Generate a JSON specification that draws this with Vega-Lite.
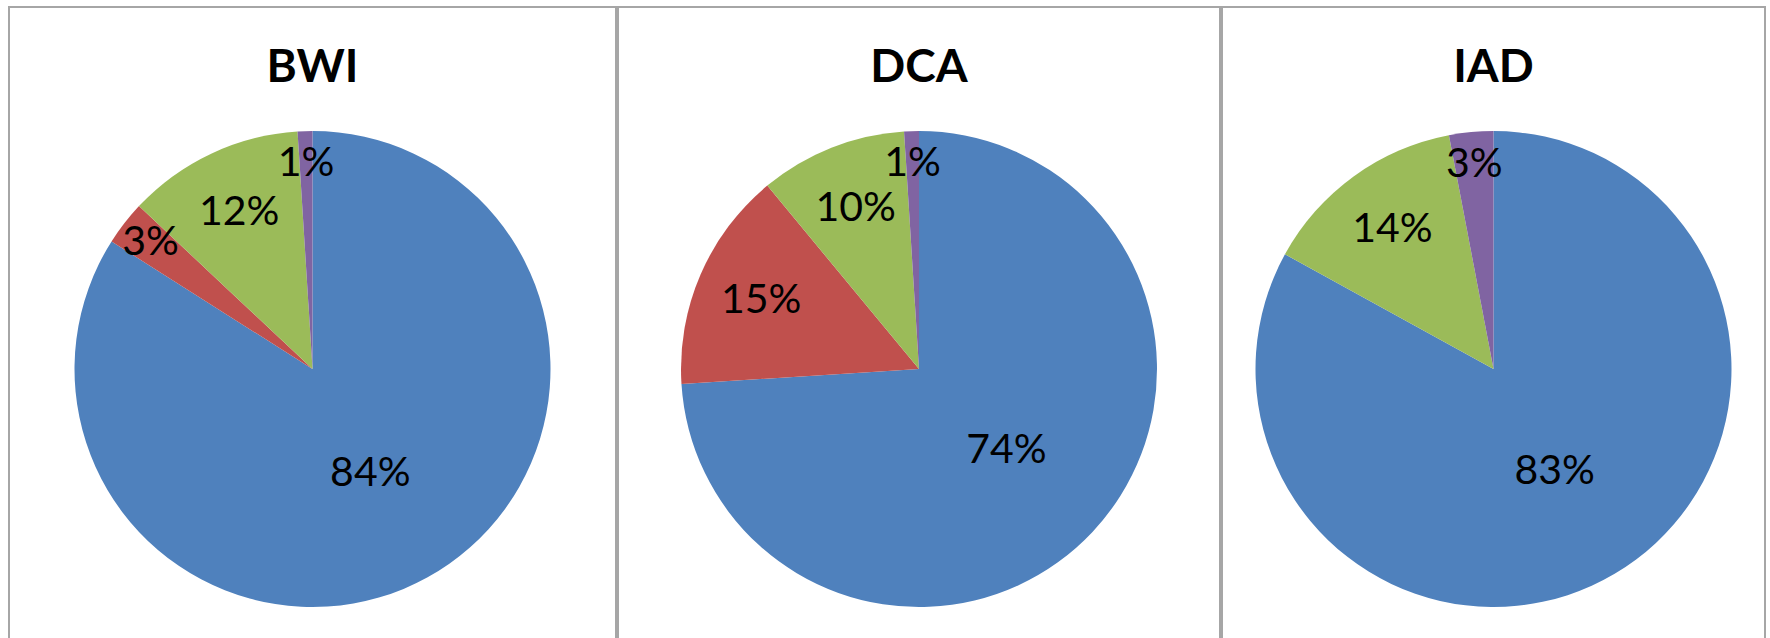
{
  "$schema": "https://vega.github.io/schema/vega-lite/v6.json",
  "padding": {"left": 8, "top": 6, "right": 0, "bottom": 0},
  "background": "white",
  "config": {
    "view": {"stroke": "#a6a6a6", "strokeWidth": 2},
    "style": {"view": {"stroke": "#a6a6a6", "strokeWidth": 2}},
    "concat": {"spacing": 0},
    "title": {"font": "Lato", "fontSize": 46, "fontWeight": "bold", "color": "black", "anchor": "middle", "offset": -85, "baseline": "alphabetic"}
  },
  "data": {
    "values": [
      {"airport": "BWI", "category": "Series 1", "order": 1, "share": 0.84},
      {"airport": "BWI", "category": "Series 2", "order": 2, "share": 0.03},
      {"airport": "BWI", "category": "Series 3", "order": 3, "share": 0.12},
      {"airport": "BWI", "category": "Series 4", "order": 4, "share": 0.01},
      {"airport": "DCA", "category": "Series 1", "order": 1, "share": 0.74},
      {"airport": "DCA", "category": "Series 2", "order": 2, "share": 0.15},
      {"airport": "DCA", "category": "Series 3", "order": 3, "share": 0.10},
      {"airport": "DCA", "category": "Series 4", "order": 4, "share": 0.01},
      {"airport": "IAD", "category": "Series 1", "order": 1, "share": 0.83},
      {"airport": "IAD", "category": "Series 3", "order": 3, "share": 0.14},
      {"airport": "IAD", "category": "Series 4", "order": 4, "share": 0.03}
    ]
  },
  "hconcat": [
    {
      "width": 607, "height": 724,
      "title": {"text": "BWI"},
      "transform": [{"filter": "datum.airport === 'BWI'"}],
      "encoding": {
        "theta": {"field": "share", "type": "quantitative", "stack": true},
        "order": {"field": "order", "type": "quantitative"}
      },
      "layer": [
        {
          "mark": {"type": "arc", "outerRadius": 238},
          "encoding": {
            "color": {"field": "category", "type": "nominal", "legend": null,
              "scale": {"domain": ["Series 1", "Series 2", "Series 3", "Series 4"], "range": ["#4F81BD", "#C0504D", "#9BBB59", "#8064A2"]}}
          }
        },
        {
          "mark": {"type": "text", "radius": 120, "font": "Lato", "fontSize": 41, "color": "black"},
          "encoding": {"text": {"condition": {"test": "datum.share > 0.5", "field": "share", "type": "quantitative", "format": ".0%"}, "value": ""}}
        },
        {
          "mark": {"type": "text", "radius": 172, "font": "Lato", "fontSize": 41, "color": "black"},
          "encoding": {"text": {"condition": {"test": "datum.share <= 0.5 && datum.share > 0.05", "field": "share", "type": "quantitative", "format": ".0%"}, "value": ""}}
        },
        {
          "mark": {"type": "text", "radius": 205, "font": "Lato", "fontSize": 41, "color": "black"},
          "encoding": {"text": {"condition": {"test": "datum.share <= 0.05", "field": "share", "type": "quantitative", "format": ".0%"}, "value": ""}}
        }
      ]
    },
    {
      "width": 602, "height": 724,
      "title": {"text": "DCA"},
      "transform": [{"filter": "datum.airport === 'DCA'"}],
      "encoding": {
        "theta": {"field": "share", "type": "quantitative", "stack": true},
        "order": {"field": "order", "type": "quantitative"}
      },
      "layer": [
        {
          "mark": {"type": "arc", "outerRadius": 238},
          "encoding": {
            "color": {"field": "category", "type": "nominal", "legend": null,
              "scale": {"domain": ["Series 1", "Series 2", "Series 3", "Series 4"], "range": ["#4F81BD", "#C0504D", "#9BBB59", "#8064A2"]}}
          }
        },
        {
          "mark": {"type": "text", "radius": 120, "font": "Lato", "fontSize": 41, "color": "black"},
          "encoding": {"text": {"condition": {"test": "datum.share > 0.5", "field": "share", "type": "quantitative", "format": ".0%"}, "value": ""}}
        },
        {
          "mark": {"type": "text", "radius": 172, "font": "Lato", "fontSize": 41, "color": "black"},
          "encoding": {"text": {"condition": {"test": "datum.share <= 0.5 && datum.share > 0.05", "field": "share", "type": "quantitative", "format": ".0%"}, "value": ""}}
        },
        {
          "mark": {"type": "text", "radius": 205, "font": "Lato", "fontSize": 41, "color": "black"},
          "encoding": {"text": {"condition": {"test": "datum.share <= 0.05", "field": "share", "type": "quantitative", "format": ".0%"}, "value": ""}}
        }
      ]
    },
    {
      "width": 543, "height": 724,
      "title": {"text": "IAD"},
      "transform": [{"filter": "datum.airport === 'IAD'"}],
      "encoding": {
        "theta": {"field": "share", "type": "quantitative", "stack": true},
        "order": {"field": "order", "type": "quantitative"}
      },
      "layer": [
        {
          "mark": {"type": "arc", "outerRadius": 238},
          "encoding": {
            "color": {"field": "category", "type": "nominal", "legend": null,
              "scale": {"domain": ["Series 1", "Series 2", "Series 3", "Series 4"], "range": ["#4F81BD", "#C0504D", "#9BBB59", "#8064A2"]}}
          }
        },
        {
          "mark": {"type": "text", "radius": 120, "font": "Lato", "fontSize": 41, "color": "black"},
          "encoding": {"text": {"condition": {"test": "datum.share > 0.5", "field": "share", "type": "quantitative", "format": ".0%"}, "value": ""}}
        },
        {
          "mark": {"type": "text", "radius": 172, "font": "Lato", "fontSize": 41, "color": "black"},
          "encoding": {"text": {"condition": {"test": "datum.share <= 0.5 && datum.share > 0.05", "field": "share", "type": "quantitative", "format": ".0%"}, "value": ""}}
        },
        {
          "mark": {"type": "text", "radius": 205, "font": "Lato", "fontSize": 41, "color": "black"},
          "encoding": {"text": {"condition": {"test": "datum.share <= 0.05", "field": "share", "type": "quantitative", "format": ".0%"}, "value": ""}}
        }
      ]
    }
  ]
}
